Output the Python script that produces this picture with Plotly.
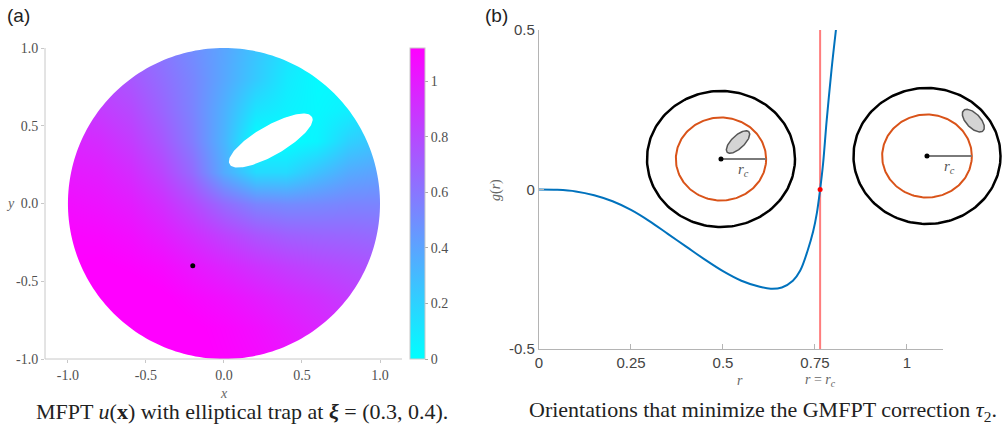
import numpy as np
import plotly.graph_objects as go

W, H = 1003, 434

# ---------------- Panel (a): MFPT field ----------------
grid_x = [-1.0, -0.8, -0.6, -0.4, -0.2, 0.0, 0.2, 0.4, 0.6, 0.8, 1.0]
grid_y = [-1.0, -0.8, -0.6, -0.4, -0.2, 0.0, 0.2, 0.4, 0.6, 0.8, 1.0]
mfpt = [
    [1.09, 1.13, 1.15, 1.15, 1.14, 1.11, 1.08, 1.04, 0.99, 0.93, 0.86],  # y=-1.0
    [1.12, 1.15, 1.16, 1.15, 1.13, 1.10, 1.06, 1.01, 0.96, 0.91, 0.85],  # y=-0.8
    [1.13, 1.15, 1.15, 1.13, 1.09, 1.05, 1.00, 0.95, 0.91, 0.86, 0.81],  # y=-0.6
    [1.12, 1.13, 1.11, 1.08, 1.02, 0.96, 0.90, 0.85, 0.81, 0.78, 0.75],  # y=-0.4
    [1.10, 1.09, 1.06, 1.00, 0.92, 0.83, 0.75, 0.70, 0.68, 0.67, 0.65],  # y=-0.2
    [1.06, 1.04, 1.00, 0.92, 0.80, 0.65, 0.54, 0.51, 0.52, 0.54, 0.54],  # y= 0.0
    [1.01, 0.99, 0.93, 0.82, 0.65, 0.36, 0.16, 0.16, 0.27, 0.37, 0.41],  # y= 0.2
    [0.96, 0.93, 0.86, 0.74, 0.57, 0.32, 0.00, 0.00, 0.05, 0.20, 0.27],  # y= 0.4
    [0.89, 0.86, 0.80, 0.68, 0.54, 0.34, 0.12, 0.06, 0.03, 0.07, 0.15],  # y= 0.6
    [0.82, 0.80, 0.74, 0.64, 0.53, 0.38, 0.23, 0.09, 0.02, 0.03, 0.02],  # y= 0.8
    [0.75, 0.73, 0.68, 0.60, 0.50, 0.39, 0.26, 0.13, 0.03, 0.00, 0.00],  # y= 1.0
]
trap_center = (0.30, 0.405)
trap_semi_axes = (0.30, 0.09)
trap_angle_deg = 30
start_point = (-0.2, -0.4)
domain_radius = 1.0
cbar_vals = [0, 0.2, 0.4, 0.6, 0.8, 1.0]
cbar_text = ["0", "0.2", "0.4", "0.6", "0.8", "1"]
xy_vals = [-1.0, -0.5, 0.0, 0.5, 1.0]
xy_text = ["-1.0", "-0.5", "0.0", "0.5", "1.0"]

# ---------------- Panel (b): g(r) ----------------
r_vals = [0.0, 0.05, 0.10, 0.15, 0.20, 0.25, 0.30, 0.35, 0.40, 0.45, 0.50, 0.55,
          0.60, 0.63, 0.66, 0.69, 0.71, 0.73, 0.745, 0.755, 0.764, 0.772, 0.782,
          0.795, 0.807]
g_vals = [0.0, -0.001, -0.006, -0.018, -0.037, -0.064, -0.099, -0.139, -0.179,
          -0.219, -0.256, -0.286, -0.305, -0.311, -0.307, -0.286, -0.254, -0.192,
          -0.132, -0.075, 0.0, 0.08, 0.218, 0.375, 0.5]
r_c = 0.764
r_vals_ticks = [0, 0.25, 0.5, 0.75, 1.0]
r_text = ["0", "0.25", "0.5", "0.75", "1"]
g_vals_ticks = [-0.5, 0.0, 0.5]
g_text = ["-0.5", "0", "0.5"]

# inset schematics (unit outer disk)
inset_rc_radius = 0.61
inset1_trap = dict(c=(0.23, 0.25), ax=(0.21, 0.09), ang=47)
inset2_trap = dict(c=(0.63, 0.52), ax=(0.20, 0.10), ang=-50)


def ellipse(c, ax, ang, n=160):
    t = np.linspace(0, 2 * np.pi, n)
    a = np.deg2rad(ang)
    ex = ax[0] * np.cos(t)
    ey = ax[1] * np.sin(t)
    return (c[0] + ex * np.cos(a) - ey * np.sin(a),
            c[1] + ex * np.sin(a) + ey * np.cos(a))


def px(x):
    return x / W


def py(y):
    return 1 - y / H


fig = go.Figure()

serif = "Liberation Serif"
sans = "Liberation Sans"

fig.add_trace(go.Heatmap(
    x=grid_x, y=grid_y, z=mfpt, zsmooth="best",
    colorscale=[[0, "rgb(0,255,255)"], [1, "rgb(255,0,255)"]],
    zmin=0, zmax=1.12, xaxis="x", yaxis="y", hoverinfo="skip",
    colorbar=dict(x=px(410), xanchor="left", y=py(203.5), yanchor="middle",
                  len=311, lenmode="pixels", thickness=15, thicknessmode="pixels",
                  outlinewidth=1, outlinecolor="#c8c8c8", xpad=0, ypad=0,
                  tickvals=cbar_vals, ticktext=cbar_text, ticks="outside",
                  ticklen=3, tickcolor="#aaaaaa",
                  tickfont=dict(family=serif, size=14, color="#505050")),
))

tx, ty = ellipse(trap_center, trap_semi_axes, trap_angle_deg)
fig.add_trace(go.Scatter(x=tx, y=ty, mode="lines", fill="toself",
                         fillcolor="white", line=dict(color="white", width=1.5),
                         xaxis="x", yaxis="y", hoverinfo="skip", showlegend=False))
fig.add_trace(go.Scatter(x=[start_point[0]], y=[start_point[1]], mode="markers",
                         marker=dict(color="black", size=5),
                         xaxis="x", yaxis="y", showlegend=False))

# mask outside disk (white), then redraw the two axis lines above it
th = np.linspace(0, 2 * np.pi, 241)
cx = domain_radius * np.cos(th)
cy = domain_radius * np.sin(th)
circ = " ".join(f"L{a:.4f},{b:.4f}" for a, b in zip(cx[1:], cy[1:]))
mask_path = (f"M-1.3,-1.3 L1.3,-1.3 L1.3,1.3 L-1.3,1.3 Z "
             f"M{cx[0]:.4f},{cy[0]:.4f} {circ} Z")
fig.add_shape(type="path", path=mask_path, xref="x", yref="y",
              fillcolor="white", line=dict(width=0), fillrule="evenodd",
              layer="above")
fig.add_shape(type="line", xref="x domain", yref="y domain", x0=0, x1=1, y0=0, y1=0,
              line=dict(color="#c8c8c8", width=1), layer="above")
fig.add_shape(type="line", xref="x domain", yref="y domain", x0=0, x1=0, y0=0, y1=1,
              line=dict(color="#c8c8c8", width=1), layer="above")

# panel (b) traces
fig.add_trace(go.Scatter(x=[r_c, r_c], y=[-0.5, 0.5], mode="lines",
                         line=dict(color="rgba(255,70,70,0.7)", width=2),
                         xaxis="x2", yaxis="y2", showlegend=False))
fig.add_trace(go.Scatter(x=r_vals, y=g_vals, mode="lines",
                         line=dict(color="#0072BD", width=2, shape="spline"),
                         xaxis="x2", yaxis="y2", showlegend=False))
fig.add_trace(go.Scatter(x=[r_c], y=[0], mode="markers",
                         marker=dict(color="red", size=5),
                         xaxis="x2", yaxis="y2", showlegend=False))

# insets
for k, trap in ((3, inset1_trap), (4, inset2_trap)):
    xa, ya = f"x{k}", f"y{k}"
    ox, oy = ellipse((0, 0), (1, 1), 0, 200)
    fig.add_trace(go.Scatter(x=ox, y=oy, mode="lines",
                             line=dict(color="black", width=2.5),
                             xaxis=xa, yaxis=ya, showlegend=False, hoverinfo="skip"))
    rx, ry = ellipse((0, 0), (inset_rc_radius, inset_rc_radius), 0, 200)
    fig.add_trace(go.Scatter(x=rx, y=ry, mode="lines",
                             line=dict(color="#D95319", width=2),
                             xaxis=xa, yaxis=ya, showlegend=False, hoverinfo="skip"))
    fig.add_trace(go.Scatter(x=[0, inset_rc_radius], y=[0, 0], mode="lines",
                             line=dict(color="#7a7a7a", width=2),
                             xaxis=xa, yaxis=ya, showlegend=False, hoverinfo="skip"))
    fig.add_trace(go.Scatter(x=[0], y=[0], mode="markers",
                             marker=dict(color="black", size=5),
                             xaxis=xa, yaxis=ya, showlegend=False, hoverinfo="skip"))
    ex, ey = ellipse(trap["c"], trap["ax"], trap["ang"])
    fig.add_trace(go.Scatter(x=ex, y=ey, mode="lines", fill="toself",
                             fillcolor="#d4d4d4", line=dict(color="#555555", width=1.5),
                             xaxis=xa, yaxis=ya, showlegend=False, hoverinfo="skip"))
    fig.add_annotation(x=0.30, y=-0.16, xref=xa, yref=ya, showarrow=False,
                       text="<i>r</i><sub><i>c</i></sub>",
                       font=dict(family=serif, size=15, color="#555555"))

left_axis = dict(showline=False, ticks="outside",
                 ticklen=3, tickcolor="#c8c8c8", showgrid=False, zeroline=False,
                 automargin=False,
                 tickfont=dict(family=serif, size=14, color="#505050"))
right_axis = dict(showline=True, linecolor="#b4b4b4", linewidth=1.2, ticks="inside",
                  ticklen=5, tickcolor="#b4b4b4", showgrid=False, zeroline=False,
                  automargin=False,
                  tickfont=dict(family=sans, size=15, color="#444444"))
hidden = dict(visible=False, showgrid=False, zeroline=False, automargin=False)

fig.update_layout(
    width=W, height=H, margin=dict(l=0, r=0, t=0, b=0, autoexpand=False),
    paper_bgcolor="white", plot_bgcolor="rgba(0,0,0,0)", showlegend=False,
    xaxis=dict(domain=[px(45), px(402)], range=[-1.147, 1.141], anchor="y",
               tickvals=xy_vals, ticktext=xy_text, **left_axis),
    yaxis=dict(domain=[py(359), py(48)], range=[-1, 1], anchor="x",
               tickvals=xy_vals, ticktext=xy_text, **left_axis),
    xaxis2=dict(domain=[px(539), px(943)], range=[0, 1.098], anchor="y2",
                tickvals=r_vals_ticks, ticktext=r_text, **right_axis),
    yaxis2=dict(domain=[py(349), py(30)], range=[-0.5, 0.5], anchor="x2",
                tickvals=g_vals_ticks, ticktext=g_text, **right_axis),
    xaxis3=dict(domain=[px(643.3), px(798.7)], range=[-1.05, 1.05], anchor="y3", **hidden),
    yaxis3=dict(domain=[py(230.4), py(87.6)], range=[-1.05, 1.05], anchor="x3", **hidden),
    xaxis4=dict(domain=[px(849.8), px(1002)], range=[-1.05, 1.02], anchor="y4", **hidden),
    yaxis4=dict(domain=[py(227.4), py(84.6)], range=[-1.05, 1.05], anchor="x4", **hidden),
)

ann = [
    dict(x=px(5), y=py(15), text="(a)", xanchor="left",
         font=dict(family=sans, size=19, color="#222222")),
    dict(x=px(483), y=py(15), text="(b)", xanchor="left",
         font=dict(family=sans, size=19, color="#222222")),
    dict(x=px(224), y=py(393), text="<i>x</i>",
         font=dict(family=serif, size=14, color="#666666")),
    dict(x=px(10), y=py(204), text="<i>y</i>",
         font=dict(family=serif, size=14, color="#666666")),
    dict(x=px(242), y=py(411),
         text="MFPT <i>u</i>(<b>x</b>) with elliptical trap at <b><i>ξ</i></b> = (0.3, 0.4).",
         font=dict(family=serif, size=22, color="#222222")),
    dict(x=px(763), y=py(411),
         text="Orientations that minimize the GMFPT correction <i>τ</i><sub>2</sub>.",
         font=dict(family=serif, size=22, color="#222222")),
    dict(x=px(740), y=py(380), text="<i>r</i>",
         font=dict(family=serif, size=14, color="#666666")),
    dict(x=px(820), y=py(380), text="<i>r</i> = <i>r</i><sub><i>c</i></sub>",
         font=dict(family=serif, size=14, color="#666666")),
    dict(x=px(496), y=py(190), text="<i>g</i>(<i>r</i>)", textangle=-90,
         font=dict(family=serif, size=14, color="#666666")),
]
for a in ann:
    a.update(xref="paper", yref="paper", showarrow=False)
    a.setdefault("xanchor", "center")
    a.setdefault("yanchor", "middle")
    fig.add_annotation(**a)

fig.write_html("out.html",
               config={"displayModeBar": False},
               post_script="document.body.style.margin='0';"
                           "document.body.style.overflow='hidden';")
